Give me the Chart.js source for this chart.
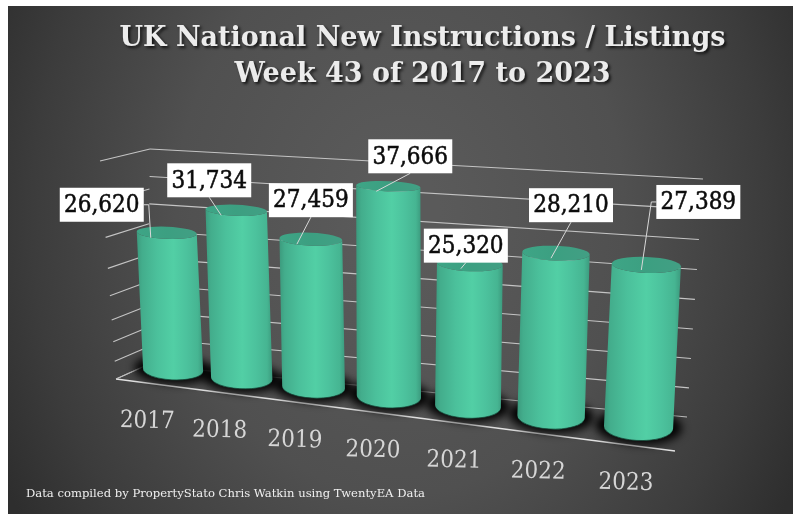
<!DOCTYPE html>
<html>
<head>
<meta charset="utf-8">
<title>UK National New Instructions / Listings</title>
<script src="https://cdn.jsdelivr.net/npm/chart.js@4"></script>
<style>
  html, body { margin: 0; background: #fff; }
  canvas { display: block; }
</style>
</head>
<body>
<canvas id="chart" width="793" height="514"></canvas>
<script>
const titleLines = ['UK National New Instructions / Listings', 'Week 43 of 2017 to 2023'];
const sourceNote = 'Data compiled by PropertyStato Chris Watkin using TwentyEA Data';
const years = ['2017', '2018', '2019', '2020', '2021', '2022', '2023'];
const listings = [26620, 31734, 27459, 37666, 25320, 28210, 27389];

// where each value box sits relative to the top of its cylinder
const boxOffsetX = [-65, -27, 0, 22, -4, 15, 52];
const boxOffsetY = [-28, -30, -39, -30, -18, -48, -63];
const boxElbow = [1, 0, 0, 0, 0, 0, -1];
// leader lines land left of the cylinder's centre
const leaderDropX = [-16, -15, -14, -12, -9, -5, -5];

// corners of the 3D scene on the canvas: bottom left, bottom right, top right, top left
const backWall = [[147, 365], [687, 417], [703, 179], [150, 149]];
const leftWall = [[147, 365], [116, 379], [100, 161], [150, 149]];
const barPlane = [[140, 366], [684, 433], [698, 189], [129, 159]];
const floorFront = [[116, 379], [675, 451]];

// maps the unit square onto a quad, so spacing shrinks with distance
function homography(q) {
  const [[x0, y0], [x1, y1], [x2, y2], [x3, y3]] = q;
  const dx1 = x1 - x2, dx2 = x3 - x2, sx = x0 - x1 + x2 - x3;
  const dy1 = y1 - y2, dy2 = y3 - y2, sy = y0 - y1 + y2 - y3;
  const den = dx1 * dy2 - dx2 * dy1;
  const g = (sx * dy2 - dx2 * sy) / den;
  const h = (dx1 * sy - sx * dy1) / den;
  const a = x1 - x0 + g * x1, b = x3 - x0 + h * x3;
  const d = y1 - y0 + g * y1, e = y3 - y0 + h * y3;
  return (u, v) => {
    const w = g * u + h * v + 1;
    return [(a * u + b * v + x0) / w, (d * u + e * v + y0) / w];
  };
}

const onBackWall = homography(backWall);
const onLeftWall = homography(leftWall);
const onBars = homography(barPlane);

function line(ctx, p, q) {
  ctx.beginPath();
  ctx.moveTo(p[0], p[1]);
  ctx.lineTo(q[0], q[1]);
  ctx.stroke();
}

function drawGrid(ctx, chart) {
  const y = chart.scales.y;
  const area = chart.chartArea;
  ctx.strokeStyle = '#c4c4c4';
  ctx.lineWidth = 1.1;
  y.getTicks().forEach(t => {
    const v = (area.bottom - y.getPixelForValue(t.value)) / (area.bottom - area.top);
    line(ctx, onLeftWall(1, v), onLeftWall(0, v));
    line(ctx, onBackWall(0, v), onBackWall(1, v));
  });
  ctx.strokeStyle = '#e2e2e2';
  ctx.lineWidth = 1.3;
  line(ctx, floorFront[0], floorFront[1]);
  ctx.strokeStyle = '#bdbdbd';
  ctx.lineWidth = 1;
  line(ctx, floorFront[0], leftWall[0]);
}

// flatter ellipses higher up, since the camera looks down on the scene
function squash(py) {
  return 0.2 + (py - 231) * 0.00091;
}

function cylinder(chart, bar) {
  const area = chart.chartArea;
  const u = (bar.x - area.left) / (area.right - area.left);
  const v = (area.bottom - bar.y) / (area.bottom - area.top);
  const base = onBars(u, 0);
  const top = onBars(u, v);
  const full = onBars(u, 1);
  const r = (base[1] - full[1]) * 0.1435;
  return { base, top, r, rb: r * squash(base[1]), rt: r * squash(top[1]) };
}

function drawCylinderShadow(ctx, c) {
  ctx.save();
  ctx.filter = 'blur(4px)';
  ctx.fillStyle = 'rgba(0,0,0,0.95)';
  ctx.beginPath();
  ctx.ellipse(c.base[0], c.base[1] - 1, c.r + 9, c.rb + 5, 0.05, 0, Math.PI * 2);
  ctx.fill();
  ctx.restore();
}

function drawCylinder(ctx, c) {
  const tilt = 0.04;
  const left = Math.min(c.base[0], c.top[0]) - c.r;
  const right = Math.max(c.base[0], c.top[0]) + c.r;
  const body = ctx.createLinearGradient(left, 0, right, 0);
  body.addColorStop(0, '#3c9a7d');
  body.addColorStop(0.08, '#43ad8c');
  body.addColorStop(0.3, '#4bc09b');
  body.addColorStop(0.55, '#52cfa5');
  body.addColorStop(0.75, '#4cc29d');
  body.addColorStop(0.92, '#46b592');
  body.addColorStop(1, '#3c9a7e');

  ctx.fillStyle = body;
  ctx.beginPath();
  ctx.ellipse(c.base[0], c.base[1], c.r, c.rb, tilt, 0, Math.PI);
  ctx.ellipse(c.top[0], c.top[1], c.r, c.rt, tilt, Math.PI, 0, true);
  ctx.closePath();
  ctx.fill();

  // dark rim where the cylinder meets the floor
  ctx.strokeStyle = 'rgba(20,70,55,0.75)';
  ctx.lineWidth = 1;
  ctx.beginPath();
  ctx.ellipse(c.base[0], c.base[1], c.r, c.rb, tilt, 0.25, Math.PI - 0.25);
  ctx.stroke();

  const cap = ctx.createLinearGradient(c.top[0] - c.r, 0, c.top[0] + c.r, 0);
  cap.addColorStop(0, '#3ea586');
  cap.addColorStop(0.5, '#3c9f81');
  cap.addColorStop(1, '#429f84');
  ctx.fillStyle = cap;
  ctx.beginPath();
  ctx.ellipse(c.top[0], c.top[1], c.r, c.rt, tilt, 0, Math.PI * 2);
  ctx.fill();
}

function drawValueBox(ctx, c, i) {
  const cx = c.top[0] + boxOffsetX[i];
  const cy = c.top[1] + boxOffsetY[i];
  const w = 84, h = 34;

  // leader line from the box down to the cylinder
  ctx.strokeStyle = '#d8d8d8';
  ctx.lineWidth = 1;
  ctx.beginPath();
  if (boxElbow[i]) {
    ctx.moveTo(cx + boxElbow[i] * w / 2, cy);
    ctx.lineTo(cx + boxElbow[i] * (w / 2 + 5), cy);
  } else {
    ctx.moveTo(cx, cy + h / 2);
  }
  ctx.lineTo(c.top[0] + leaderDropX[i], c.top[1] + 5);
  ctx.stroke();

  ctx.fillStyle = '#fff';
  ctx.fillRect(cx - w / 2, cy - h / 2, w, h);
  ctx.fillStyle = '#0c0c0c';
  ctx.strokeStyle = '#0c0c0c';
  ctx.lineWidth = 0.5;
  ctx.font = '24px "DejaVu Serif Condensed", "DejaVu Serif", serif';
  ctx.textAlign = 'center';
  ctx.textBaseline = 'middle';
  const text = listings[i].toLocaleString('en-GB');
  ctx.fillText(text, cx, cy + 1);
  ctx.strokeText(text, cx, cy + 1);
}

function drawYearLabels(ctx, chart) {
  const area = chart.chartArea;
  const x = chart.scales.x;
  const fs = floorFront[0], fe = floorFront[1];
  const frontEdge = homography([fs, fe, [fe[0] + 14, fe[1] - 240], [fs[0] - 14, fs[1] - 212]]);
  ctx.fillStyle = '#d6d6d6';
  ctx.font = '24px "DejaVu Serif Condensed", "DejaVu Serif", serif';
  ctx.textAlign = 'center';
  ctx.textBaseline = 'middle';
  x.getLabels().forEach((label, i) => {
    const u = (x.getPixelForValue(i) - area.left) / (area.right - area.left);
    const p = frontEdge(u, 0);
    ctx.save();
    ctx.translate(p[0] - 4, p[1] + 38);
    ctx.rotate(0.025);
    ctx.fillText(label, 0, 0);
    ctx.restore();
  });
}

const scene3d = {
  id: 'scene3d',
  beforeDraw(chart) {
    const ctx = chart.ctx;
    ctx.save();
    ctx.beginPath();
    ctx.rect(8, 6, 785, 508);
    ctx.clip();
    // wider across than down: the sides fall off faster than top and bottom
    ctx.translate(400, 215);
    ctx.scale(1, 1.25);
    const bg = ctx.createRadialGradient(0, 0, 40, 0, 0, 450);
    bg.addColorStop(0, '#5a5a5a');
    bg.addColorStop(0.45, '#505050');
    bg.addColorStop(0.8, '#3c3c3c');
    bg.addColorStop(1, '#2e2e2e');
    ctx.fillStyle = bg;
    ctx.fillRect(-400, -215, 800, 500);
    ctx.restore();
    // the title box draws next and picks this shadow up
    ctx.shadowColor = 'rgba(0,0,0,0.75)';
    ctx.shadowOffsetX = 2;
    ctx.shadowOffsetY = 2;
    ctx.shadowBlur = 3;
  },
  beforeDatasetsDraw(chart) {
    const ctx = chart.ctx;
    ctx.shadowColor = 'transparent';
    ctx.shadowOffsetX = 0;
    ctx.shadowOffsetY = 0;
    ctx.shadowBlur = 0;
  },
  afterDatasetsDraw(chart) {
    const ctx = chart.ctx;
    const bars = chart.getDatasetMeta(0).data.map(bar => cylinder(chart, bar));
    ctx.save();
    drawGrid(ctx, chart);
    bars.forEach(c => drawCylinderShadow(ctx, c));
    bars.forEach(c => drawCylinder(ctx, c));
    bars.forEach((c, i) => drawValueBox(ctx, c, i));
    drawYearLabels(ctx, chart);
    ctx.fillStyle = '#f0f0f0';
    ctx.font = '11.6px "DejaVu Serif", serif';
    ctx.textAlign = 'left';
    ctx.textBaseline = 'middle';
    ctx.fillText(sourceNote, 26, 494);
    ctx.restore();
  }
};

new Chart(document.getElementById('chart'), {
  type: 'bar',
  data: {
    labels: years,
    datasets: [{ data: listings, backgroundColor: 'transparent' }]
  },
  options: {
    responsive: false,
    animation: false,
    layout: { padding: { left: 52 } },
    scales: {
      x: { display: false },
      y: { display: false, min: 0, max: 40000, ticks: { stepSize: 5000 } }
    },
    plugins: {
      legend: { display: false },
      tooltip: { enabled: false },
      title: {
        display: true,
        fullSize: false,
        text: titleLines,
        color: '#ececec',
        font: { family: '"DejaVu Serif", serif', size: 27, weight: 'bold', lineHeight: 1.33 },
        padding: { top: 21, bottom: 10 }
      }
    }
  },
  plugins: [scene3d]
});
</script>
</body>
</html>
